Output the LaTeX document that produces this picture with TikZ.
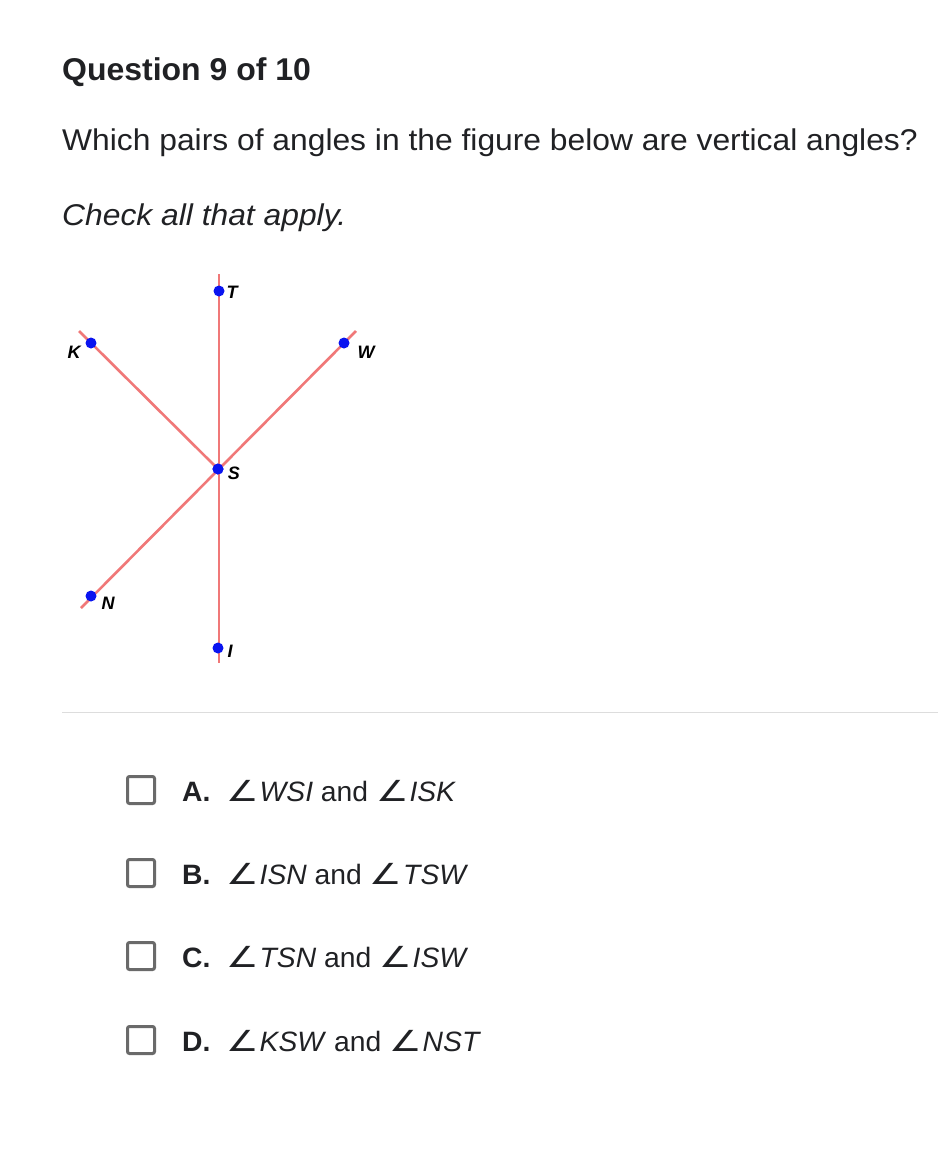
\documentclass[tikz,border=0pt]{standalone}
\usepackage{fontspec}
\setmainfont{Liberation Sans}
\newfontfamily\symfont{DejaVu Sans}[FakeStretch=1.25]
\definecolor{txt}{HTML}{202124}
\definecolor{seg}{HTML}{F07878}
\definecolor{dotblue}{HTML}{0A14F0}
\definecolor{sepgray}{HTML}{DDDDDD}
\definecolor{boxgray}{HTML}{6A6A6A}
\newcommand{\ang}{{\symfont\fontsize{29}{30}\selectfont∠}\hspace{1pt}}
\tikzset{
  txtline/.style={anchor=base west, inner sep=0pt, text=txt},
  ptdot/.style={circle, fill=dotblue, inner sep=0pt, minimum size=11pt},
  ptlabel/.style={inner sep=0pt, font=\fontsize{18}{20}\selectfont\bfseries\itshape},
  segline/.style={draw=seg, line width=2.6pt},
  cbox/.style={draw=boxgray, line width=3pt, rounded corners=2pt, minimum size=27pt, inner sep=0pt},
  optlbl/.style={anchor=base west, inner sep=0pt, text=txt, font=\fontsize{28}{34}\selectfont\addfontfeature{FakeStretch=1.01}}
}
\begin{document}
\begin{tikzpicture}[x=1pt,y=-1pt]
\useasboundingbox[fill=white] (0,0) rectangle (938,1162);
% header text
\node[txtline, font=\fontsize{31.5}{38}\selectfont\bfseries\addfontfeature{FakeStretch=1.015}] (title) at (62,80) {Question 9 of 10};
\node[txtline, font=\fontsize{30}{36}\selectfont\addfontfeature{FakeStretch=1.06}] (question) at (62,150) {Which pairs of angles in the figure below are vertical angles?};
\node[txtline, font=\fontsize{30}{36}\selectfont\itshape\addfontfeature{FakeStretch=1.06}] (hint) at (62,225) {Check all that apply.};
% figure line ends
\coordinate (topend) at (219,274);
\coordinate (botend) at (219,663);
\coordinate (kend) at (79,331);
\coordinate (wend) at (356,331);
\coordinate (nend) at (81,608);
% points
\node[ptdot] (S) at (218,469) {};
\draw[segline] (topend) -- (botend);
\draw[segline] (kend) -- (S.center);
\draw[segline] (wend) -- (nend);
\node[ptdot] (S) at (218,469) {};
\node[ptdot] (T) at (219,291) {};
\node[ptdot] (K) at (91,343) {};
\node[ptdot] (W) at (344,343) {};
\node[ptdot] (N) at (91,596) {};
\node[ptdot] (I) at (218,648) {};
\node[ptlabel] (Tl) at (232,292) {T};
\node[ptlabel] (Kl) at (74,352) {K};
\node[ptlabel] (Wl) at (366,352) {W};
\node[ptlabel] (Sl) at (234,473) {S};
\node[ptlabel] (Nl) at (108,603) {N};
\node[ptlabel] (Il) at (230,651) {I};
% separator
\coordinate (sepl) at (62,712.5);
\coordinate (sepr) at (938,712.5);
\draw[sepgray, line width=1.5pt] (sepl) -- (sepr);
% options
\node[cbox] (boxA) at (141,790) {};
\node[cbox] (boxB) at (141,873) {};
\node[cbox] (boxC) at (141,956) {};
\node[cbox] (boxD) at (141,1040) {};
\node[optlbl] (optA) at (182,801) {\textbf{A.}\ \ \ang\textit{WSI} and \ang\textit{ISK}};
\node[optlbl] (optB) at (182,884) {\textbf{B.}\ \ \ang\textit{ISN} and \ang\textit{TSW}};
\node[optlbl] (optC) at (182,967) {\textbf{C.}\ \ \ang\textit{TSN} and \ang\textit{ISW}};
\node[optlbl] (optD) at (182,1051) {\textbf{D.}\ \ \ang\textit{KSW} and \ang\textit{NST}};
\end{tikzpicture}
\end{document}
